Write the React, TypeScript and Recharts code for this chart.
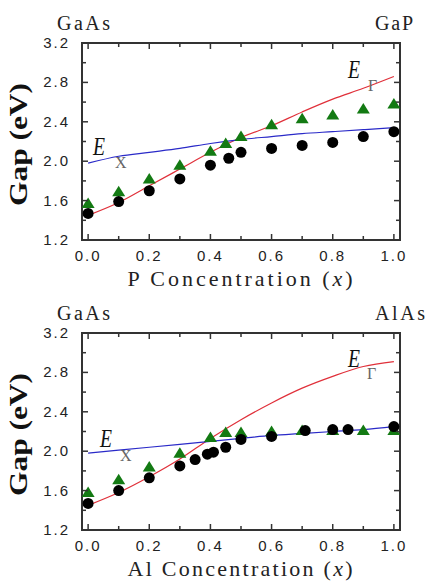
import React from "react";
import {
  ComposedChart,
  Line,
  Scatter,
  XAxis,
  YAxis,
  ReferenceArea,
} from "recharts";

// concentration grid shared by the fitted curves
const CURVE_X = [0, 0.1, 0.2, 0.3, 0.4, 0.5, 0.6, 0.7, 0.8, 0.9, 1.0];

// GaAs(1-x)P(x)
const P_CIRCLE_X = [0, 0.1, 0.2, 0.3, 0.4, 0.46, 0.5, 0.6, 0.7, 0.8, 0.9, 1.0];
const P_CIRCLE_Y = [1.47, 1.59, 1.70, 1.82, 1.96, 2.03, 2.09, 2.13, 2.16, 2.19, 2.25, 2.30];
const P_TRI_X = [0, 0.1, 0.2, 0.3, 0.4, 0.45, 0.5, 0.6, 0.7, 0.8, 0.9, 1.0];
const P_TRI_Y = [1.57, 1.69, 1.82, 1.96, 2.10, 2.18, 2.25, 2.37, 2.43, 2.47, 2.53, 2.58];
const P_GAMMA = [1.45, 1.58, 1.75, 1.92, 2.09, 2.24, 2.36, 2.50, 2.63, 2.74, 2.86];
const P_XVAL = [1.98, 2.05, 2.09, 2.13, 2.18, 2.22, 2.25, 2.28, 2.30, 2.32, 2.34];

// Al(x)Ga(1-x)As
const AL_CIRCLE_X = [0, 0.1, 0.2, 0.3, 0.35, 0.39, 0.41, 0.45, 0.5, 0.6, 0.71, 0.8, 0.85, 1.0];
const AL_CIRCLE_Y = [1.47, 1.60, 1.73, 1.85, 1.915, 1.97, 1.99, 2.04, 2.12, 2.15, 2.21, 2.22, 2.22, 2.25];
const AL_TRI_X = [0, 0.1, 0.2, 0.3, 0.4, 0.45, 0.5, 0.6, 0.7, 0.8, 0.9, 1.0];
const AL_TRI_Y = [1.58, 1.71, 1.84, 1.98, 2.14, 2.19, 2.19, 2.20, 2.21, 2.21, 2.21, 2.21];
const AL_GAMMA = [1.45, 1.58, 1.74, 1.92, 2.13, 2.32, 2.49, 2.64, 2.76, 2.86, 2.91];
const AL_XVAL = [1.98, 2.01, 2.04, 2.07, 2.10, 2.13, 2.16, 2.18, 2.20, 2.22, 2.25];

const X_TICKS = [0, 0.1, 0.2, 0.3, 0.4, 0.5, 0.6, 0.7, 0.8, 0.9, 1.0];
const Y_TICKS = [1.2, 1.4, 1.6, 1.8, 2.0, 2.2, 2.4, 2.6, 2.8, 3.0, 3.2];

const W = 428;
const PLOT_W = 318;
const PLOT_H = 197;
const FRAME = "#333";
const TICK_FONT = "'Liberation Sans Narrow', 'Liberation Sans', Arial, sans-serif";
const SERIF = "'Liberation Serif', 'Times New Roman', Times, serif";

const zip = (xs: number[], ys: number[]) => xs.map((x, i) => ({ x, y: ys[i] }));

// eslint-disable-next-line @typescript-eslint/no-explicit-any
function XTick({ x, y, payload }: any) {
  const v = payload.value as number;
  const major = Math.round(v * 10) % 2 === 0;
  const len = major ? 6 : 4;
  return (
    <g>
      <line x1={x} y1={y} x2={x} y2={y - len} stroke={FRAME} strokeWidth={1.5} />
      <line x1={x} y1={y - PLOT_H} x2={x} y2={y - PLOT_H + len} stroke={FRAME} strokeWidth={1.5} />
      {major && (
        <text x={x} y={y + 21} textAnchor="middle" fontFamily={TICK_FONT} fontSize={15} letterSpacing={2} fill="#222">
          {v.toFixed(1)}
        </text>
      )}
    </g>
  );
}

// eslint-disable-next-line @typescript-eslint/no-explicit-any
function YTick({ x, y, payload }: any) {
  const v = payload.value as number;
  const major = Math.round(v * 10) % 4 === 0;
  const len = major ? 6 : 4;
  return (
    <g>
      <line x1={x} y1={y} x2={x + len} y2={y} stroke={FRAME} strokeWidth={1.5} />
      <line x1={x + PLOT_W} y1={y} x2={x + PLOT_W - len} y2={y} stroke={FRAME} strokeWidth={1.5} />
      {major && (
        <text x={x - 12} y={y + 5} textAnchor="end" fontFamily={TICK_FONT} fontSize={15} letterSpacing={2} fill="#222">
          {v.toFixed(1)}
        </text>
      )}
    </g>
  );
}

// eslint-disable-next-line @typescript-eslint/no-explicit-any
const Dot = ({ cx, cy }: any) => <circle cx={cx} cy={cy} r={5.5} fill="#000" />;
// eslint-disable-next-line @typescript-eslint/no-explicit-any
const Tri = ({ cx, cy }: any) => (
  <polygon points={`${cx},${cy - 6} ${cx - 6.5},${cy + 4.5} ${cx + 6.5},${cy + 4.5}`} fill="#137a13" />
);

interface PanelProps {
  height: number;
  bottom: number;
  circles: { x: number; y: number }[];
  triangles: { x: number; y: number }[];
  gamma: { x: number; y: number }[];
  xval: { x: number; y: number }[];
  element: string;
  left: string;
  right: string;
  rightWidth: number;
}

function Panel({ height, bottom, circles, triangles, gamma, xval, element, left, right, rightWidth }: PanelProps) {
  const plotTop = 43;
  const plotBottom = plotTop + PLOT_H;
  return (
    <div style={{ position: "relative", width: W, height }}>
      <ComposedChart width={W} height={height} margin={{ top: plotTop, right: 28, left: 22, bottom }}>
        <XAxis
          type="number"
          dataKey="x"
          domain={[-0.02, 1.02]}
          ticks={X_TICKS}
          interval={0}
          tickSize={0}
          tickMargin={0}
          axisLine={false}
          tickLine={false}
          tick={<XTick />}
          height={30}
        />
        <YAxis
          type="number"
          dataKey="y"
          domain={[1.2, 3.2]}
          ticks={Y_TICKS}
          interval={0}
          tickSize={0}
          tickMargin={0}
          axisLine={false}
          tickLine={false}
          tick={<YTick />}
          width={60}
        />
        <ReferenceArea x1={-0.02} x2={1.02} y1={1.2} y2={3.2} fill="none" stroke={FRAME} strokeWidth={2} />
        <Line data={gamma} dataKey="y" type="monotone" stroke="#e0303a" strokeWidth={1.2} dot={false} isAnimationActive={false} />
        <Line data={xval} dataKey="y" type="monotone" stroke="#2a2ac8" strokeWidth={1.2} dot={false} isAnimationActive={false} />
        <Scatter data={triangles} dataKey="y" shape={<Tri />} isAnimationActive={false} />
        <Scatter data={circles} dataKey="y" shape={<Dot />} isAnimationActive={false} />
      </ComposedChart>
      <svg
        width={W}
        height={height}
        style={{ position: "absolute", left: 0, top: 0, pointerEvents: "none", overflow: "visible" }}
      >
        <text x={57} y={30} fontFamily={SERIF} fontSize={20} textLength={53} lengthAdjust="spacing" fill="#222">
          {left}
        </text>
        <text x={375} y={30} fontFamily={SERIF} fontSize={20} textLength={rightWidth} lengthAdjust="spacing" fill="#222">
          {right}
        </text>
        <text
          transform={`translate(27, ${plotTop + PLOT_H / 2 + 3}) rotate(-90)`}
          textAnchor="middle"
          fontFamily={SERIF}
          fontWeight="bold"
          fontSize={26}
          textLength={123}
          lengthAdjust="spacingAndGlyphs"
          fill="#111"
        >
          Gap (eV)
        </text>
        <text x={240} y={plotBottom + 46} textAnchor="middle" fontFamily={SERIF} fontSize={22} textLength={225} lengthAdjust="spacing" fill="#222">
          {element} Concentration (<tspan fontStyle="italic">x</tspan>)
        </text>
      </svg>
    </div>
  );
}

function Annot({ ex, ey, sx, sy, sub }: { ex: number; ey: number; sx: number; sy: number; sub: string }) {
  return (
    <>
      <text x={ex} y={ey} fontFamily={SERIF} fontStyle="italic" fontSize={26} textLength={12} lengthAdjust="spacingAndGlyphs" fill="#111">
        E
      </text>
      <text x={sx} y={sy} fontFamily={SERIF} fontSize={16} fill="#666">
        {sub}
      </text>
    </>
  );
}

export default function App() {
  return (
    <div style={{ position: "absolute", left: 0, top: 0, width: W, height: 581, background: "#fff" }}>
      <Panel
        height={290}
        bottom={20}
        circles={zip(P_CIRCLE_X, P_CIRCLE_Y)}
        triangles={zip(P_TRI_X, P_TRI_Y)}
        gamma={zip(CURVE_X, P_GAMMA)}
        xval={zip(CURVE_X, P_XVAL)}
        element="P"
        left="GaAs"
        right="GaP"
        rightWidth={38}
      />
      <Panel
        height={291}
        bottom={21}
        circles={zip(AL_CIRCLE_X, AL_CIRCLE_Y)}
        triangles={zip(AL_TRI_X, AL_TRI_Y)}
        gamma={zip(CURVE_X, AL_GAMMA)}
        xval={zip(CURVE_X, AL_XVAL)}
        element="Al"
        left="GaAs"
        right="AlAs"
        rightWidth={50}
      />
      <svg width={W} height={581} style={{ position: "absolute", left: 0, top: 0, pointerEvents: "none" }}>
        <Annot ex={93} ey={155} sx={115} sy={168} sub="X" />
        <Annot ex={348} ey={78} sx={368} sy={91} sub="Γ" />
        <Annot ex={100} ey={447} sx={120} sy={461} sub="X" />
        <Annot ex={348} ey={367} sx={367} sy={379} sub="Γ" />
      </svg>
    </div>
  );
}
